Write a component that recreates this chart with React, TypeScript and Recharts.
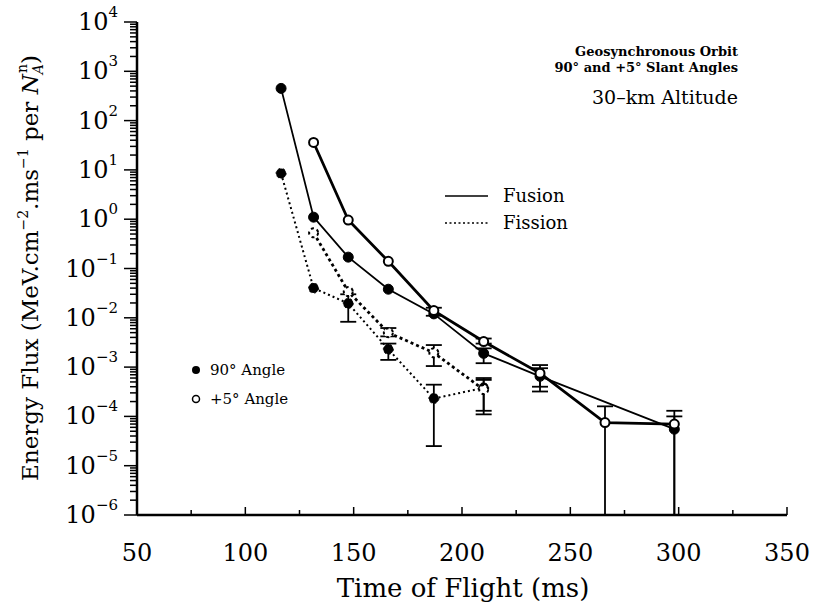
import { ComposedChart, Line, XAxis, YAxis, ErrorBar } from "recharts";

const FONT = "DejaVu Serif";

// x-axis ticks (time of flight, ms)
const xTicks = [50, 75, 100, 125, 150, 175, 200, 225, 250, 275, 300, 325, 350];
const decades = [-6, -5, -4, -3, -2, -1, 0, 1, 2, 3, 4];

// Fusion, 90 deg angle (filled, solid)
const fus90X = [116.5, 131.5, 147.5, 166, 187, 210, 236, 298];
const fus90Y = [450, 1.1, 0.17, 0.038, 0.012, 0.0019, 0.00065, 0.000055];
const fus90Lo = [null, null, null, null, null, 0.0012, 0.00032, 0.000001];
const fus90Hi = [null, null, null, null, null, 0.0024, 0.00095, 0.0001];

// Fusion, +5 deg angle (open, solid)
const fus5X = [131.5, 147.5, 166, 187, 210, 236, 266, 298];
const fus5Y = [36, 0.96, 0.14, 0.014, 0.0033, 0.00075, 0.000075, 0.00007];
const fus5Lo = [null, null, null, 0.011, 0.003, 0.0004, 0.000001, 0.000001];
const fus5Hi = [null, null, null, 0.016, 0.0038, 0.0011, 0.00016, 0.00013];

// Fission, 90 deg angle (filled, dotted)
const fis90X = [116.5, 131.5, 147.5, 166, 187, 210];
const fis90Y = [8.5, 0.04, 0.0196, 0.0023, 0.00023, 0.00038];
const fis90Lo = [null, null, 0.0083, 0.0014, 0.000025, 0.00011];
const fis90Hi = [null, null, 0.03, 0.003, 0.00044, 0.0006];

// Fission, +5 deg angle (open, dotted)
const fis5X = [131.5, 147.5, 166, 187, 210];
const fis5Y = [0.53, 0.034, 0.005, 0.00195, 0.00035];
const fis5Lo = [null, null, 0.0042, 0.00105, 0.00013];
const fis5Hi = [null, null, 0.0062, 0.0028, 0.00055];

const build = (xs: number[], ys: number[], lo: (number | null)[], hi: (number | null)[]) =>
	xs.map((x, i) => ({
		x,
		y: ys[i],
		err: lo[i] != null && hi[i] != null ? [ys[i] - (lo[i] as number), (hi[i] as number) - ys[i]] : undefined,
	}));

const yTicks: number[] = [];
decades.forEach((d) => {
	if (d === 4) {
		yTicks.push(1e4);
		return;
	}
	for (let k = 1; k <= 9; k++) yTicks.push(k * Math.pow(10, d));
});

const isDecade = (v: number) => Math.abs(Math.log10(v) - Math.round(Math.log10(v))) < 1e-9;

function LeftTick(props: any) {
	const { x, y, payload } = props;
	const v = payload.value;
	const major = isDecade(v);
	const exp = Math.round(Math.log10(v));
	return (
		<g>
			<line x1={x - (major ? 13 : 7)} x2={x} y1={y} y2={y} stroke="#000" strokeWidth={1.5} />
			{major && (
				<text x={x - 19} y={y + 8} textAnchor="end" fontFamily={FONT} fontSize={24} fill="#000">
					10
					<tspan dy={-13} fontSize={15}>
						{exp < 0 ? "−" + Math.abs(exp) : String(exp)}
					</tspan>
				</text>
			)}
		</g>
	);
}

function RightTick(props: any) {
	const { x, y, payload } = props;
	const major = isDecade(payload.value);
	return <line x1={x - (major ? 13 : 7)} x2={x} y1={y} y2={y} stroke="#000" strokeWidth={1.5} />;
}

function BottomTick(props: any) {
	const { x, y, payload } = props;
	const major = payload.value % 50 === 0;
	return (
		<g>
			<line x1={x} x2={x} y1={y} y2={y - (major ? 8 : 5)} stroke="#000" strokeWidth={1.5} />
			{major && (
				<text x={x} y={y + 46} textAnchor="middle" fontFamily={FONT} fontSize={24} fill="#000">
					{payload.value}
				</text>
			)}
		</g>
	);
}

function TopTick(props: any) {
	const { x, y, payload } = props;
	const major = payload.value % 50 === 0;
	return <line x1={x} x2={x} y1={y} y2={y + (major ? 8 : 5)} stroke="#000" strokeWidth={1.5} />;
}

const filledDot = { r: 5, fill: "#000", stroke: "#000", strokeWidth: 1 };
const openDot = { r: 4.5, fill: "#fff", stroke: "#000", strokeWidth: 2 };

export default function App() {
	return (
		<div style={{ position: "absolute", left: 0, top: 0, width: 813, height: 605, background: "#fff" }}>
			<ComposedChart width={813} height={605} margin={{ top: 22, right: 26, bottom: 60, left: 77 }}>
				<XAxis
					xAxisId="b"
					dataKey="x"
					type="number"
					domain={[50, 350]}
					ticks={xTicks}
					interval={0}
					tickSize={0}
					tickMargin={0}
					tickLine={false}
					height={30}
					axisLine={{ stroke: "#000", strokeWidth: 2.5 }}
					tick={(p: any) => <BottomTick {...p} />}
					allowDataOverflow
				/>
				<XAxis
					xAxisId="t"
					orientation="top"
					type="number"
					domain={[50, 350]}
					ticks={xTicks}
					interval={0}
					tickSize={0}
					tickMargin={0}
					tickLine={false}
					height={0}
					axisLine={{ stroke: "#000", strokeWidth: 2.5 }}
					tick={(p: any) => <TopTick {...p} />}
					allowDataOverflow
				/>
				<YAxis
					yAxisId="l"
					type="number"
					scale="log"
					domain={[1e-6, 1e4]}
					ticks={yTicks}
					interval={0}
					tickSize={0}
					tickMargin={0}
					tickLine={false}
					width={60}
					axisLine={{ stroke: "#000", strokeWidth: 2.5 }}
					tick={(p: any) => <LeftTick {...p} />}
					allowDataOverflow
				/>
				<YAxis
					yAxisId="r"
					orientation="right"
					type="number"
					scale="log"
					domain={[1e-6, 1e4]}
					ticks={yTicks}
					interval={0}
					tickSize={0}
					tickMargin={0}
					tickLine={false}
					width={0}
					axisLine={{ stroke: "#000", strokeWidth: 2.5 }}
					tick={(p: any) => <RightTick {...p} />}
					allowDataOverflow
				/>
				<Line
					xAxisId="b"
					yAxisId="l"
					data={build(fis90X, fis90Y, fis90Lo, fis90Hi)}
					dataKey="y"
					stroke="#000"
					strokeWidth={2}
					strokeDasharray="2 3"
					dot={filledDot}
					isAnimationActive={false}
				>
					<ErrorBar dataKey="err" direction="y" width={8} stroke="#000" strokeWidth={1.8} />
				</Line>
				<Line
					xAxisId="b"
					yAxisId="l"
					data={build(fis5X, fis5Y, fis5Lo, fis5Hi)}
					dataKey="y"
					stroke="#000"
					strokeWidth={2.8}
					strokeDasharray="3 3"
					dot={openDot}
					isAnimationActive={false}
				>
					<ErrorBar dataKey="err" direction="y" width={8} stroke="#000" strokeWidth={1.8} />
				</Line>
				<Line
					xAxisId="b"
					yAxisId="l"
					data={build(fus90X, fus90Y, fus90Lo, fus90Hi)}
					dataKey="y"
					stroke="#000"
					strokeWidth={1.8}
					dot={filledDot}
					isAnimationActive={false}
				>
					<ErrorBar dataKey="err" direction="y" width={8} stroke="#000" strokeWidth={1.8} />
				</Line>
				<Line
					xAxisId="b"
					yAxisId="l"
					data={build(fus5X, fus5Y, fus5Lo, fus5Hi)}
					dataKey="y"
					stroke="#000"
					strokeWidth={2.8}
					dot={openDot}
					isAnimationActive={false}
				>
					<ErrorBar dataKey="err" direction="y" width={8} stroke="#000" strokeWidth={1.8} />
				</Line>

				{/* annotation block, top right */}
				<text x={738} y={56} textAnchor="end" fontFamily={FONT} fontSize={13} fontWeight="bold" fill="#000">
					Geosynchronous Orbit
				</text>
				<text x={738} y={72} textAnchor="end" fontFamily={FONT} fontSize={13} fontWeight="bold" fill="#000">
					90° and +5° Slant Angles
				</text>
				<text x={738} y={104} textAnchor="end" fontFamily={FONT} fontSize={19} fill="#000">
					30–km Altitude
				</text>

				{/* line-style legend */}
				<line x1={445} x2={488} y1={196} y2={196} stroke="#000" strokeWidth={1.5} />
				<text x={503} y={202} fontFamily={FONT} fontSize={18} fill="#000">
					Fusion
				</text>
				<line x1={445} x2={488} y1={223} y2={223} stroke="#000" strokeWidth={1.5} strokeDasharray="2 2.5" />
				<text x={503} y={229} fontFamily={FONT} fontSize={18} fill="#000">
					Fission
				</text>

				{/* marker legend */}
				<circle cx={196} cy={370} r={4} fill="#000" />
				<text x={210} y={375} fontFamily={FONT} fontSize={15} fill="#000">
					90° Angle
				</text>
				<circle cx={196} cy={399} r={3.5} fill="#fff" stroke="#000" strokeWidth={1.5} />
				<text x={210} y={404} fontFamily={FONT} fontSize={15} fill="#000">
					+5° Angle
				</text>

				{/* axis titles */}
				<text x={463} y={597} textAnchor="middle" fontFamily={FONT} fontSize={26} fill="#000">
					Time of Flight (ms)
				</text>
				<text
					transform="translate(38 268) rotate(-90)"
					textAnchor="middle"
					fontFamily={FONT}
					fontSize={23}
					fill="#000"
				>
					Energy Flux (MeV.cm
					<tspan dy={-10} fontSize={14}>−2</tspan>
					<tspan dy={10}>.ms</tspan>
					<tspan dy={-10} fontSize={14}>−1</tspan>
					<tspan dy={10}> per </tspan>
					<tspan fontStyle="italic">N</tspan>
					<tspan dy={5} fontSize={14} fontStyle="italic">A</tspan>
					<tspan dx={-9} dy={-16} fontSize={14}>n</tspan>
					<tspan dy={11}>)</tspan>
				</text>
			</ComposedChart>
		</div>
	);
}
